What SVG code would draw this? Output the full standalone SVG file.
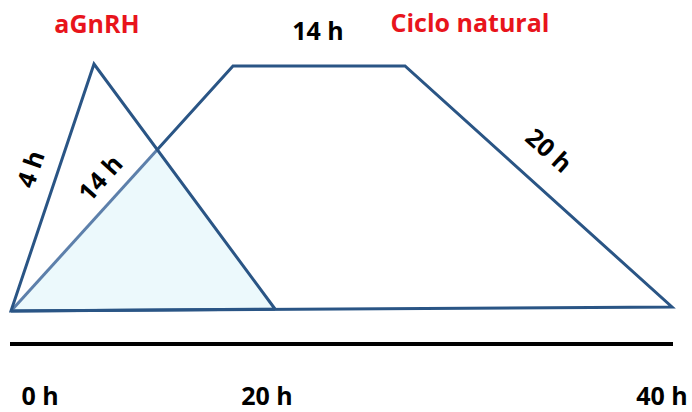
<svg xmlns="http://www.w3.org/2000/svg" width="692" height="412" viewBox="0 0 692 412">
<style>
.shape{fill:none;stroke:#2a5585;stroke-width:3;stroke-linejoin:miter}
.t{font-family:"Open Sans","Liberation Sans",sans-serif;font-weight:bold;font-size:25px;fill:#000}
.red{fill:#e8141c}
</style>
<rect width="692" height="412" fill="#fff"/>
<g id="overlap">
<polygon points="11,311 157,150 275,309" fill="#ecf9fc"/>
</g>
<g id="ciclo-natural">
<polyline class="shape" points="157,150 233,66 405,66 672,307 11,311"/>
<line x1="11" y1="311" x2="157" y2="150" stroke="#5d80ab" stroke-width="3"/>
</g>
<g id="agnrh">
<polyline class="shape" points="275,309 94,64 11,311 275,309"/>
</g>
<g id="axis">
<line x1="10" y1="344" x2="673" y2="344" stroke="#000" stroke-width="4"/>
</g>
<g id="labels">
<text class="t red" x="97" y="33" text-anchor="middle">aGnRH</text>
<text class="t" x="318" y="40" text-anchor="middle">14 h</text>
<text class="t red" x="470" y="32" text-anchor="middle">Ciclo natural</text>
<text class="t" transform="translate(39,172) rotate(-71)" text-anchor="middle">4 h</text>
<text class="t" transform="translate(107,184) rotate(-48)" text-anchor="middle">14 h</text>
<text class="t" transform="translate(543,157) rotate(42)" text-anchor="middle">20 h</text>
<text class="t" x="40" y="405" text-anchor="middle">0 h</text>
<text class="t" x="267" y="405" text-anchor="middle">20 h</text>
<text class="t" x="662" y="405" text-anchor="middle">40 h</text>
</g>
</svg>
